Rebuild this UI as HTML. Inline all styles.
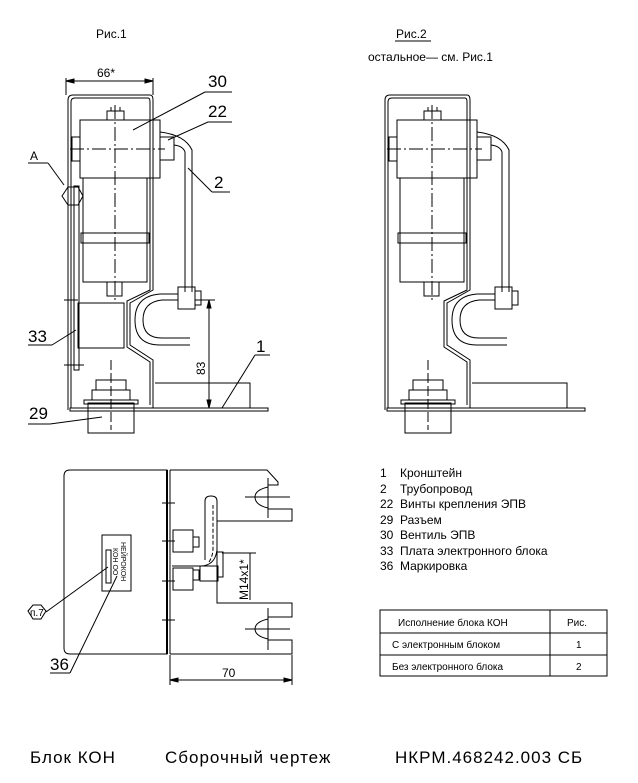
<!DOCTYPE html><html><head><meta charset="utf-8"><style>body{margin:0;background:#fff}svg{display:block}text{font-family:"Liberation Sans",sans-serif;fill:#000}</style></head><body>
<svg width="638" height="783" viewBox="0 0 638 783" xmlns="http://www.w3.org/2000/svg" fill="none" stroke="#000" stroke-width="1">
<defs>
<g id="unit">
<path d="M68 410 V100 Q68 95 73 95 H150 Q153 95 153 100 V290 L130 303 V345 L153 360 V408"/>
<path d="M71 408 V102 Q71 98 75 98 H148 Q150 98 150 102 V290 L127 301 V347 L150 362 V405"/>
<path d="M70 408 H268 V411 H70 Z"/>
<path d="M155 383 H250 V408"/>
<rect x="80" y="120" width="80" height="58"/>
<line x1="150" y1="120" x2="150" y2="178"/>
<rect x="72" y="137" width="8" height="24"/>
<rect x="107" y="111" width="17" height="9"/><line x1="111" y1="107" x2="111" y2="111"/><line x1="120" y1="107" x2="120" y2="111"/>
<rect x="83" y="178" width="64" height="104"/>
<rect x="81" y="233" width="68" height="10"/>
<rect x="107" y="282" width="15" height="14"/>
<line x1="115" y1="105" x2="115" y2="300" stroke-dasharray="14 3 2 3"/>
<line x1="70" y1="149" x2="165" y2="149" stroke-dasharray="14 3 2 3"/>
<rect x="160" y="137" width="14" height="23"/>
<path d="M160 132 Q185 135 192 150 V292"/><path d="M174 145 Q183 146 185 152 V292"/>
<rect x="178" y="287" width="17" height="22"/><rect x="195" y="291" width="6" height="14"/>
<path d="M178 294 H160 Q135 296 135 320 Q135 345 160 345 H190"/>
<path d="M178 300 H162 Q143 302 143 320 Q143 338 162 338 H190"/>
<rect x="88" y="403" width="46" height="30"/>
<rect x="84" y="400" width="54" height="4"/>
<rect x="92" y="390" width="38" height="10"/>
<rect x="96" y="380" width="30" height="10"/>
<line x1="111" y1="360" x2="111" y2="430" stroke-dasharray="10 3"/>
</g>
</defs>
<use href="#unit"/>
<use href="#unit" transform="translate(317,0)"/>
<rect x="74" y="186" width="5" height="184"/>
<rect x="78" y="303" width="46" height="45"/>
<line x1="64" y1="300" x2="78" y2="300"/><line x1="64" y1="365" x2="84" y2="365"/>
<path d="M62 196 l6 -9 h10 l5 9 l-5 9 h-10z"/>
<line x1="66" y1="78" x2="66" y2="95"/><line x1="153" y1="78" x2="153" y2="95"/>
<line x1="66" y1="81" x2="153" y2="81"/>
<path d="M66 81 l8 -2 v4z M153 81 l-8 -2 v4z" fill="#000"/>
<text x="97" y="77" font-size="12" stroke="none">66*</text>
<line x1="195" y1="300" x2="215" y2="300"/>
<line x1="209" y1="300" x2="209" y2="408"/>
<path d="M209 300 l-2 8 h4z M209 408 l-2 -8 h4z" fill="#000"/>
<text x="205" y="375" font-size="12" stroke="none" transform="rotate(-90 205 375)">83</text>
<line x1="205" y1="92" x2="232" y2="92"/><line x1="205" y1="92" x2="133" y2="130"/>
<text x="208" y="87" font-size="17" stroke="none">30</text>
<line x1="208" y1="122" x2="232" y2="122"/><line x1="208" y1="122" x2="168" y2="140"/>
<text x="208" y="117" font-size="17" stroke="none">22</text>
<line x1="212" y1="192" x2="230" y2="192"/><line x1="212" y1="192" x2="188" y2="168"/>
<text x="214" y="188" font-size="17" stroke="none">2</text>
<line x1="28" y1="163" x2="48" y2="163"/><line x1="48" y1="163" x2="64" y2="185"/>
<text x="30" y="160" font-size="12" stroke="none">A</text>
<line x1="28" y1="345" x2="52" y2="345"/><line x1="52" y1="345" x2="76" y2="330"/>
<text x="28" y="342" font-size="17" stroke="none">33</text>
<line x1="28" y1="424" x2="50" y2="424"/><line x1="50" y1="424" x2="102" y2="417"/>
<text x="29" y="419" font-size="17" stroke="none">29</text>
<line x1="255" y1="355" x2="270" y2="355"/><line x1="255" y1="355" x2="222" y2="408"/>
<text x="256" y="352" font-size="17" stroke="none">1</text>
<text x="96" y="38" font-size="12" stroke="none">Рис.1</text>
<text x="396" y="38" font-size="12" stroke="none">Рис.2</text><line x1="395" y1="41" x2="431" y2="41"/>
<text x="368" y="61" font-size="12" stroke="none">остальное— см. Рис.1</text>
<!-- bottom view -->
<path d="M167 470 H70 Q64 470 64 476 V648 Q64 654 70 654 H167 Z"/>
<line x1="167" y1="470" x2="167" y2="654" stroke-width="2"/><line x1="170" y1="470" x2="170" y2="654"/>
<path d="M170 470 H267 L278 482 V485 H268"/>
<path d="M268 509 H292 V521 H217 V603 H292 V617 H268"/>
<path d="M268 640 H292 V654 H170"/>
<path d="M268 487 Q255 490 255 497 Q255 505 268 508"/>
<path d="M268 619 Q255 622 255 629 Q255 636 268 639"/>
<line x1="245" y1="497" x2="290" y2="497"/><line x1="268" y1="478" x2="268" y2="518"/>
<line x1="245" y1="629" x2="290" y2="629"/><line x1="268" y1="608" x2="268" y2="650"/>
<path d="M205 560 V501 Q205 496 211 496 Q217 496 217 501 V550 Q215 566 200 566 H172"/>
<path d="M209 562 Q213 556 213 548 V505" stroke-dasharray="4 2"/>
<rect x="173" y="530" width="20" height="22"/><rect x="193" y="537" width="6" height="10"/>
<rect x="173" y="568" width="20" height="22"/><rect x="193" y="570" width="6" height="10"/>
<rect x="200" y="566" width="18" height="15"/><rect x="217" y="552" width="6" height="25"/>
<line x1="162" y1="503" x2="175" y2="503"/><line x1="162" y1="541" x2="175" y2="541"/><line x1="162" y1="581" x2="175" y2="581"/><line x1="162" y1="620" x2="175" y2="620"/>
<line x1="222" y1="553" x2="256" y2="553"/><line x1="250" y1="553" x2="250" y2="600"/>
<text x="248" y="600" font-size="12" stroke="none" transform="rotate(-90 248 600)">M14x1*</text>
<rect x="102" y="535" width="29" height="56"/>
<rect x="106" y="550" width="5" height="33"/>
<text x="121" y="542" font-size="7" stroke="none" transform="rotate(90 121 542)">НЕЙРОКОН</text>
<text x="113" y="548" font-size="7" stroke="none" transform="rotate(90 113 548)">КОН ОО</text>
<path d="M28 611 l5 -6 h8 l5 6 l-5 8 h-8z"/><text x="30" y="616" font-size="10" stroke="none">п.7</text>
<line x1="46" y1="612" x2="108" y2="567"/>
<line x1="50" y1="673" x2="70" y2="673"/><line x1="70" y1="673" x2="117" y2="576"/>
<text x="50" y="670" font-size="17" stroke="none">36</text>
<line x1="170" y1="655" x2="170" y2="685"/><line x1="292" y1="655" x2="292" y2="685"/>
<line x1="170" y1="680" x2="292" y2="680"/>
<path d="M170 680 l8 -2 v4z M292 680 l-8 -2 v4z" fill="#000"/>
<text x="222" y="677" font-size="12" stroke="none">70</text>
<g font-size="12" stroke="none">
<text x="380" y="477">1</text><text x="400" y="477">Кронштейн</text>
<text x="380" y="493">2</text><text x="400" y="493">Трубопровод</text>
<text x="380" y="508">22</text><text x="400" y="508">Винты крепления ЭПВ</text>
<text x="380" y="524">29</text><text x="400" y="524">Разъем</text>
<text x="380" y="539">30</text><text x="400" y="539">Вентиль ЭПВ</text>
<text x="380" y="555">33</text><text x="400" y="555">Плата электронного блока</text>
<text x="380" y="570">36</text><text x="400" y="570">Маркировка</text>
</g>
<rect x="380" y="610" width="227" height="66"/>
<line x1="380" y1="633" x2="607" y2="633"/><line x1="380" y1="655" x2="607" y2="655"/><line x1="550" y1="610" x2="550" y2="676"/>
<g font-size="10" stroke="none">
<text x="398" y="626">Исполнение блока КОН</text><text x="567" y="626">Рис.</text>
<text x="392" y="648">С электронным блоком</text><text x="576" y="648">1</text>
<text x="392" y="670">Без электронного блока</text><text x="576" y="670">2</text>
</g>
<text x="30" y="763" font-size="17" stroke="none" letter-spacing="1">Блок КОН</text>
<text x="165" y="763" font-size="17" stroke="none" letter-spacing="1">Сборочный чертеж</text>
<text x="395" y="763" font-size="17" stroke="none" letter-spacing="1">НКРМ.468242.003 СБ</text>
</svg></body></html>
